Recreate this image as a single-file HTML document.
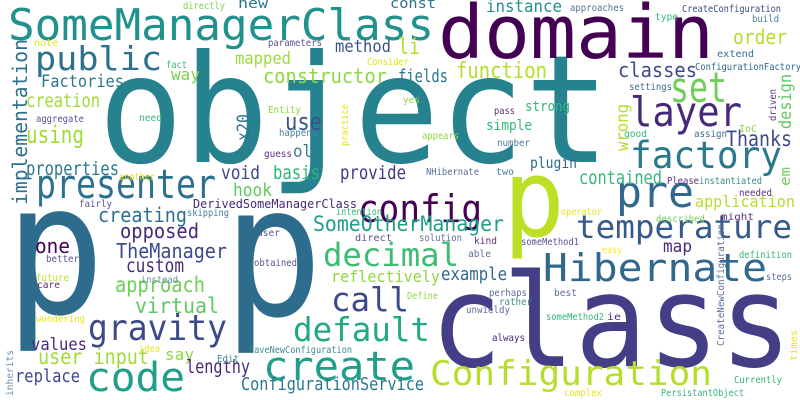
<!DOCTYPE html>
<html><head><meta charset="utf-8"><style>
html,body{margin:0;padding:0;background:#fff;width:800px;height:400px;overflow:hidden}
svg text{font-family:"DejaVu Sans Mono","Liberation Mono",monospace}
</style></head><body>
<svg width="800" height="400" viewBox="0 0 800 400" xmlns="http://www.w3.org/2000/svg">
<rect width="800" height="400" fill="#fff"/>
<g>
<text x="98" y="162" font-size="150" fill="#26828e" textLength="512" lengthAdjust="spacingAndGlyphs">object</text>
<text x="430" y="366" font-size="128" fill="#433e85" textLength="362" lengthAdjust="spacingAndGlyphs">class</text>
<text x="5" y="313" font-size="182" fill="#2e6c8e" textLength="100" lengthAdjust="spacingAndGlyphs">p</text>
<text x="223" y="315" font-size="182" fill="#2e6c8e" textLength="100" lengthAdjust="spacingAndGlyphs">p</text>
<text x="503" y="236" font-size="108" fill="#bddf26" textLength="62" lengthAdjust="spacingAndGlyphs">p</text>
<text x="438" y="58" font-size="74" fill="#440154" textLength="276" lengthAdjust="spacingAndGlyphs">domain</text>
<text x="8" y="40" font-size="44" fill="#21918c" textLength="426" lengthAdjust="spacingAndGlyphs">SomeManagerClass</text>
<text x="35" y="70" font-size="33" fill="#2c728e" textLength="127" lengthAdjust="spacingAndGlyphs">public</text>
<text x="36" y="198" font-size="40" fill="#2c728e" textLength="180" lengthAdjust="spacingAndGlyphs">presenter</text>
<text x="358" y="222" font-size="38" fill="#440154" textLength="124" lengthAdjust="spacingAndGlyphs">config</text>
<text x="630" y="126" font-size="41" fill="#482878" textLength="112" lengthAdjust="spacingAndGlyphs">layer</text>
<text x="670" y="102" font-size="42" fill="#6ece58" textLength="57" lengthAdjust="spacingAndGlyphs">set</text>
<text x="630" y="168" font-size="37" fill="#2a788e" textLength="152" lengthAdjust="spacingAndGlyphs">factory</text>
<text x="616" y="207" font-size="44" fill="#31688e" textLength="78" lengthAdjust="spacingAndGlyphs">pre</text>
<text x="576" y="238" font-size="32" fill="#375a8c" textLength="216" lengthAdjust="spacingAndGlyphs">temperature</text>
<text x="543" y="281" font-size="38" fill="#31688e" textLength="224" lengthAdjust="spacingAndGlyphs">Hibernate</text>
<text x="430" y="385" font-size="34" fill="#b5de2b" textLength="282" lengthAdjust="spacingAndGlyphs">Configuration</text>
<text x="323" y="266" font-size="32" fill="#3dbc74" textLength="136" lengthAdjust="spacingAndGlyphs">decimal</text>
<text x="331" y="311" font-size="33" fill="#3e4989" textLength="78" lengthAdjust="spacingAndGlyphs">call</text>
<text x="293" y="341" font-size="33" fill="#22a884" textLength="137" lengthAdjust="spacingAndGlyphs">default</text>
<text x="263" y="380" font-size="40" fill="#1f9e89" textLength="152" lengthAdjust="spacingAndGlyphs">create</text>
<text x="86" y="391" font-size="40" fill="#1f9e89" textLength="99" lengthAdjust="spacingAndGlyphs">code</text>
<text x="88" y="340" font-size="36" fill="#3e4989" textLength="139" lengthAdjust="spacingAndGlyphs">gravity</text>
<text x="313" y="231" font-size="21" fill="#1f9e89" textLength="191" lengthAdjust="spacingAndGlyphs">SomeOtherManager</text>
<text x="335" y="52" font-size="17" fill="#3b528b" textLength="56" lengthAdjust="spacingAndGlyphs">method</text>
<text x="235" y="64" font-size="17" fill="#a0da39" textLength="56" lengthAdjust="spacingAndGlyphs">mapped</text>
<text x="263" y="83" font-size="20" fill="#8fd744" textLength="124" lengthAdjust="spacingAndGlyphs">constructor</text>
<text x="398" y="82" font-size="18" fill="#2a788e" textLength="50" lengthAdjust="spacingAndGlyphs">fields</text>
<text x="456" y="78" font-size="22" fill="#b5de2b" textLength="91" lengthAdjust="spacingAndGlyphs">function</text>
<text x="618" y="77" font-size="20" fill="#3e4989" textLength="79" lengthAdjust="spacingAndGlyphs">classes</text>
<text x="733" y="44" font-size="20" fill="#b5de2b" textLength="54" lengthAdjust="spacingAndGlyphs">order</text>
<text x="398" y="54" font-size="22" fill="#b5de2b" textLength="22" lengthAdjust="spacingAndGlyphs">li</text>
<text x="486" y="12" font-size="17" fill="#21918c" textLength="76" lengthAdjust="spacingAndGlyphs">instance</text>
<text x="390" y="8" font-size="14" fill="#2c728e" textLength="46" lengthAdjust="spacingAndGlyphs">const</text>
<text x="238" y="8" font-size="14" fill="#2a788e" textLength="30" lengthAdjust="spacingAndGlyphs">new</text>
<text x="171" y="80" font-size="16" fill="#7ad151" textLength="29" lengthAdjust="spacingAndGlyphs">way</text>
<text x="41" y="87" font-size="17" fill="#2a788e" textLength="83" lengthAdjust="spacingAndGlyphs">Factories</text>
<text x="26" y="107" font-size="19" fill="#a0da39" textLength="74" lengthAdjust="spacingAndGlyphs">creation</text>
<text x="285" y="130" font-size="24" fill="#3b528b" textLength="37" lengthAdjust="spacingAndGlyphs">use</text>
<text x="26" y="143" font-size="24" fill="#a0da39" textLength="58" lengthAdjust="spacingAndGlyphs">using</text>
<text x="293" y="157" font-size="17" fill="#3b7a8e" textLength="19" lengthAdjust="spacingAndGlyphs">ol</text>
<text x="26" y="175" font-size="19" fill="#2a788e" textLength="93" lengthAdjust="spacingAndGlyphs">properties</text>
<text x="221" y="179" font-size="19" fill="#3e4989" textLength="39" lengthAdjust="spacingAndGlyphs">void</text>
<text x="273" y="179" font-size="19" fill="#2fb47c" textLength="47" lengthAdjust="spacingAndGlyphs">basis</text>
<text x="340" y="179" font-size="19" fill="#453781" textLength="66" lengthAdjust="spacingAndGlyphs">provide</text>
<text x="233" y="196" font-size="18" fill="#5ec962" textLength="39" lengthAdjust="spacingAndGlyphs">hook</text>
<text x="525" y="111" font-size="14" fill="#35b779" textLength="45" lengthAdjust="spacingAndGlyphs">strong</text>
<text x="486" y="130" font-size="14" fill="#35b779" textLength="46" lengthAdjust="spacingAndGlyphs">simple</text>
<text x="726" y="146" font-size="21" fill="#3e4989" textLength="66" lengthAdjust="spacingAndGlyphs">Thanks</text>
<text x="530" y="168" font-size="15" fill="#31688e" textLength="47" lengthAdjust="spacingAndGlyphs">plugin</text>
<text x="579" y="184" font-size="19" fill="#35b779" textLength="83" lengthAdjust="spacingAndGlyphs">contained</text>
<text x="695" y="207" font-size="16" fill="#b5de2b" textLength="100" lengthAdjust="spacingAndGlyphs">application</text>
<text x="98" y="222" font-size="20" fill="#2c728e" textLength="89" lengthAdjust="spacingAndGlyphs">creating</text>
<text x="120" y="238" font-size="20" fill="#482878" textLength="79" lengthAdjust="spacingAndGlyphs">opposed</text>
<text x="35" y="253" font-size="20" fill="#440154" textLength="35" lengthAdjust="spacingAndGlyphs">one</text>
<text x="116" y="258" font-size="20" fill="#3e4989" textLength="111" lengthAdjust="spacingAndGlyphs">TheManager</text>
<text x="126" y="272" font-size="19" fill="#482878" textLength="58" lengthAdjust="spacingAndGlyphs">custom</text>
<text x="331" y="282" font-size="16" fill="#8fd744" textLength="109" lengthAdjust="spacingAndGlyphs">reflectively</text>
<text x="115" y="292" font-size="21" fill="#6ece58" textLength="90" lengthAdjust="spacingAndGlyphs">approach</text>
<text x="135" y="313" font-size="21" fill="#5ec962" textLength="84" lengthAdjust="spacingAndGlyphs">virtual</text>
<text x="31" y="350" font-size="17" fill="#482878" textLength="56" lengthAdjust="spacingAndGlyphs">values</text>
<text x="165" y="360" font-size="16" fill="#8fd744" textLength="29" lengthAdjust="spacingAndGlyphs">say</text>
<text x="38" y="364" font-size="21" fill="#a0da39" textLength="111" lengthAdjust="spacingAndGlyphs">user input</text>
<text x="186" y="373" font-size="19" fill="#482878" textLength="64" lengthAdjust="spacingAndGlyphs">lengthy</text>
<text x="15" y="382" font-size="18" fill="#3e4989" textLength="65" lengthAdjust="spacingAndGlyphs">replace</text>
<text x="241" y="390" font-size="18" fill="#2a788e" textLength="183" lengthAdjust="spacingAndGlyphs">ConfigurationService</text>
<text x="663" y="252" font-size="17" fill="#482878" textLength="29" lengthAdjust="spacingAndGlyphs">map</text>
<text x="441" y="280" font-size="18" fill="#31688e" textLength="66" lengthAdjust="spacingAndGlyphs">example</text>
<g font-size="10">
<text x="183" y="9" fill="#7ad151" textLength="42" lengthAdjust="spacingAndGlyphs">directly</text>
<text x="34" y="46" fill="#e5e419" textLength="24" lengthAdjust="spacingAndGlyphs">note</text>
<text x="268" y="46" fill="#5b5196" textLength="54" lengthAdjust="spacingAndGlyphs">parameters</text>
<text x="166" y="68" fill="#35b779" textLength="21" lengthAdjust="spacingAndGlyphs">fact</text>
<text x="367" y="65" fill="#e2e418" textLength="42" lengthAdjust="spacingAndGlyphs">Consider</text>
<text x="268" y="113" fill="#8fd744" textLength="33" lengthAdjust="spacingAndGlyphs">Entity</text>
<text x="36" y="122" fill="#5b5196" textLength="48" lengthAdjust="spacingAndGlyphs">aggregate</text>
<text x="139" y="121" fill="#35b779" textLength="23" lengthAdjust="spacingAndGlyphs">need</text>
<text x="279" y="136" fill="#4a7fa0" textLength="38" lengthAdjust="spacingAndGlyphs">happens</text>
<text x="264" y="157" fill="#5c2f7c" textLength="28" lengthAdjust="spacingAndGlyphs">guess</text>
<text x="119" y="180" fill="#e5e419" textLength="36" lengthAdjust="spacingAndGlyphs">another</text>
<text x="570" y="11" fill="#5b6f9a" textLength="54" lengthAdjust="spacingAndGlyphs">approaches</text>
<text x="682" y="12" fill="#3e4989" textLength="99" lengthAdjust="spacingAndGlyphs">CreateConfiguration</text>
<text x="655" y="20" fill="#35b779" textLength="23" lengthAdjust="spacingAndGlyphs">type</text>
<text x="752" y="22" fill="#4a7fa0" textLength="27" lengthAdjust="spacingAndGlyphs">build</text>
<text x="717" y="57" fill="#3e6d8e" textLength="37" lengthAdjust="spacingAndGlyphs">extend</text>
<text x="695" y="70" fill="#31688e" textLength="106" lengthAdjust="spacingAndGlyphs">ConfigurationFactory</text>
<text x="629" y="90" fill="#3e6d8e" textLength="43" lengthAdjust="spacingAndGlyphs">settings</text>
<text x="403" y="103" fill="#8fd744" textLength="17" lengthAdjust="spacingAndGlyphs">yes</text>
<text x="494" y="114" fill="#5c2f7c" textLength="21" lengthAdjust="spacingAndGlyphs">pass</text>
<text x="739" y="132" fill="#8fd744" textLength="18" lengthAdjust="spacingAndGlyphs">IoC</text>
<text x="422" y="139" fill="#8fd744" textLength="37" lengthAdjust="spacingAndGlyphs">appears</text>
<text x="624" y="137" fill="#35b779" textLength="23" lengthAdjust="spacingAndGlyphs">good</text>
<text x="694" y="137" fill="#3e6d8e" textLength="33" lengthAdjust="spacingAndGlyphs">assign</text>
<text x="497" y="146" fill="#4a7fa0" textLength="33" lengthAdjust="spacingAndGlyphs">number</text>
<text x="426" y="175" fill="#5b6f9a" textLength="53" lengthAdjust="spacingAndGlyphs">NHibernate</text>
<text x="496" y="175" fill="#4a7fa0" textLength="18" lengthAdjust="spacingAndGlyphs">two</text>
<text x="667" y="184" fill="#5c2f7c" textLength="32" lengthAdjust="spacingAndGlyphs">Please</text>
<text x="699" y="184" fill="#3e8a8e" textLength="63" lengthAdjust="spacingAndGlyphs">instantiated</text>
<text x="739" y="196" fill="#5c2f7c" textLength="33" lengthAdjust="spacingAndGlyphs">needed</text>
<text x="79" y="207" fill="#5b5196" textLength="33" lengthAdjust="spacingAndGlyphs">fairly</text>
<text x="193" y="208" font-size="12" fill="#482878" textLength="164" lengthAdjust="spacingAndGlyphs">DerivedSomeManagerClass</text>
<text x="187" y="216" fill="#4a7fa0" textLength="42" lengthAdjust="spacingAndGlyphs">skipping</text>
<text x="336" y="215" fill="#35b779" textLength="46" lengthAdjust="spacingAndGlyphs">intention</text>
<text x="257" y="236" fill="#5b5196" textLength="23" lengthAdjust="spacingAndGlyphs">user</text>
<text x="355" y="241" fill="#5b5196" textLength="37" lengthAdjust="spacingAndGlyphs">direct</text>
<text x="46" y="262" fill="#5b5196" textLength="33" lengthAdjust="spacingAndGlyphs">better</text>
<text x="254" y="266" fill="#5b5196" textLength="43" lengthAdjust="spacingAndGlyphs">obtained</text>
<text x="36" y="281" fill="#b5de2b" textLength="33" lengthAdjust="spacingAndGlyphs">future</text>
<text x="141" y="283" fill="#6b8fb0" textLength="37" lengthAdjust="spacingAndGlyphs">instead</text>
<text x="37" y="288" fill="#5c2f7c" textLength="23" lengthAdjust="spacingAndGlyphs">care</text>
<text x="36" y="322" fill="#e5e419" textLength="49" lengthAdjust="spacingAndGlyphs">wondering</text>
<text x="139" y="352" fill="#e5e419" textLength="21" lengthAdjust="spacingAndGlyphs">idea</text>
<text x="249" y="353" fill="#3e8a8e" textLength="103" lengthAdjust="spacingAndGlyphs">SaveNewConfiguration</text>
<text x="217" y="362" fill="#3e8a8e" textLength="22" lengthAdjust="spacingAndGlyphs">Edit</text>
<text x="561" y="215" fill="#e5e419" textLength="41" lengthAdjust="spacingAndGlyphs">operator</text>
<text x="656" y="222" fill="#6ece58" textLength="49" lengthAdjust="spacingAndGlyphs">described</text>
<text x="721" y="220" fill="#5c2f7c" textLength="33" lengthAdjust="spacingAndGlyphs">might</text>
<text x="419" y="241" fill="#5b6f9a" textLength="43" lengthAdjust="spacingAndGlyphs">solution</text>
<text x="474" y="244" fill="#5c2f7c" textLength="23" lengthAdjust="spacingAndGlyphs">kind</text>
<text x="521" y="245" fill="#5b5196" textLength="58" lengthAdjust="spacingAndGlyphs">someMethod1</text>
<text x="602" y="253" fill="#fde725" textLength="20" lengthAdjust="spacingAndGlyphs">easy</text>
<text x="739" y="258" fill="#35b779" textLength="53" lengthAdjust="spacingAndGlyphs">definition</text>
<text x="468" y="257" fill="#5b6f9a" textLength="23" lengthAdjust="spacingAndGlyphs">able</text>
<text x="766" y="280" fill="#5b6f9a" textLength="26" lengthAdjust="spacingAndGlyphs">steps</text>
<text x="407" y="299" fill="#8fd744" textLength="31" lengthAdjust="spacingAndGlyphs">Define</text>
<text x="489" y="296" fill="#5b6f9a" textLength="38" lengthAdjust="spacingAndGlyphs">perhaps</text>
<text x="554" y="296" fill="#5b6f9a" textLength="23" lengthAdjust="spacingAndGlyphs">best</text>
<text x="499" y="305" fill="#3e8a8e" textLength="33" lengthAdjust="spacingAndGlyphs">rather</text>
<text x="466" y="313" fill="#5b6f9a" textLength="44" lengthAdjust="spacingAndGlyphs">unwieldy</text>
<text x="546" y="320" fill="#35b779" textLength="58" lengthAdjust="spacingAndGlyphs">someMethod2</text>
<text x="607" y="320" fill="#482878" textLength="14" lengthAdjust="spacingAndGlyphs">ie</text>
<text x="492" y="341" fill="#482878" textLength="33" lengthAdjust="spacingAndGlyphs">always</text>
<text x="734" y="383" fill="#35b779" textLength="48" lengthAdjust="spacingAndGlyphs">Currently</text>
<text x="564" y="396" fill="#e5e419" textLength="38" lengthAdjust="spacingAndGlyphs">complex</text>
<text x="661" y="396" fill="#35b779" textLength="83" lengthAdjust="spacingAndGlyphs">PersistantObject</text>
</g>
<text transform="translate(27,205) rotate(-90)" font-size="20" fill="#2c728e" textLength="166" lengthAdjust="spacingAndGlyphs">implementation</text>
<text transform="translate(249,141) rotate(-90)" font-size="17" fill="#2c728e" textLength="27" lengthAdjust="spacingAndGlyphs">x20</text>
<text transform="translate(348,146) rotate(-90)" font-size="10" fill="#e2e418" textLength="42" lengthAdjust="spacingAndGlyphs">practice</text>
<text transform="translate(776,121) rotate(-90)" font-size="10" fill="#5c2f7c" textLength="32" lengthAdjust="spacingAndGlyphs">driven</text>
<text transform="translate(628,151) rotate(-90)" font-size="17" fill="#b5de2b" textLength="47" lengthAdjust="spacingAndGlyphs">wrong</text>
<text transform="translate(791,129) rotate(-90)" font-size="17" fill="#5ec962" textLength="55" lengthAdjust="spacingAndGlyphs">design</text>
<text transform="translate(790,186) rotate(-90)" font-size="14" fill="#6ece58" textLength="19" lengthAdjust="spacingAndGlyphs">em</text>
<text transform="translate(13,396) rotate(-90)" font-size="10" fill="#6b8fb0" textLength="46" lengthAdjust="spacingAndGlyphs">inherits</text>
<text transform="translate(724,346) rotate(-90)" font-size="10" fill="#5b6f9a" textLength="122" lengthAdjust="spacingAndGlyphs">CreateNewConfiguration</text>
<text transform="translate(797,361) rotate(-90)" font-size="10" fill="#e5e419" textLength="31" lengthAdjust="spacingAndGlyphs">times</text>
</g>
</svg>
</body></html>
